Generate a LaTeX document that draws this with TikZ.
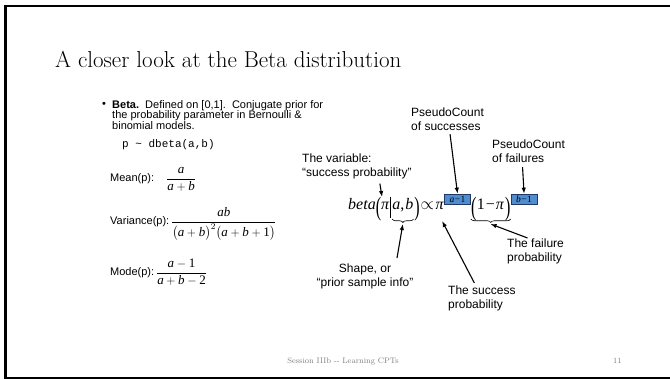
\documentclass[tikz,border=0pt]{standalone}
\usepackage{amsmath}
\usepackage{fontspec}
\newfontfamily\arial{Liberation Sans}
\newfontfamily\tms{Liberation Serif}
\newfontfamily\cour{Liberation Mono}
\usetikzlibrary{arrows.meta,decorations.pathreplacing}
\newcommand{\ti}[1]{\mbox{\tms\itshape #1}}
\newcommand{\tn}[1]{\mbox{\tms #1}}
\newcommand{\mfrac}[2]{{\fontsize{13}{15}\selectfont$\displaystyle\frac{#1}{#2}$}}
\newcommand{\bp}[1]{\raisebox{-5.5pt}{\scalebox{1}[1.65]{\tms #1}}}
\definecolor{boxblue}{RGB}{79,141,208}
\definecolor{boxedge}{RGB}{31,56,100}
\definecolor{footgray}{RGB}{128,128,128}
\tikzset{
  body/.style={font=\arial\fontsize{11}{10.5}\selectfont, inner sep=0pt},
  lab/.style={font=\arial\fontsize{12}{14}\selectfont, inner sep=0pt, align=left, anchor=north west},
  fm/.style={font=\tms\fontsize{16}{19}\selectfont, inner sep=0pt, anchor=base west},
  pcbox/.style={fill=boxblue, draw=boxedge, line width=0.8pt, minimum width=26pt, minimum height=10.5pt, inner sep=0pt, anchor=south west, font=\tms\fontsize{9.5}{9.5}\selectfont},
  brc/.style={decorate, decoration={brace, mirror, amplitude=3.5pt}, line width=0.6pt},
  arr/.style={-{Latex[length=6pt,width=4.5pt]}, line width=1.1pt},
  foot/.style={font=\fontsize{8}{10}\selectfont, text=footgray, inner sep=0pt}
}
\begin{document}
\begin{tikzpicture}[x=1pt,y=-1pt]
\useasboundingbox (0,0) rectangle (670,379);
\fill[white] (0,0) rectangle (670,379);
\draw[line width=2.2pt] (5.5,6) rectangle (690,378);

\node[font=\fontsize{23}{27}\selectfont, anchor=base west, inner sep=0pt] (title) at (55,67.5) {A closer look at the Beta distribution};

\node[body, anchor=base west] (bul) at (102,108) {•};
\node[body, anchor=north west, align=left] (btext) at (112,100) {\textbf{Beta.}\ \ Defined on [0,1].\ \ Conjugate prior for\\the probability parameter in Bernoulli \&\\binomial models.};

\node[font=\cour\fontsize{11}{13}\selectfont, inner sep=0pt, anchor=base west] (dbeta) at (122,148) {p \textasciitilde{} dbeta(a,b)};

\node[body, anchor=base west] (mean) at (110,182) {Mean(p):\hspace{12pt}\mfrac{\ti{a}}{\ti{a}+\ti{b}}};
\node[body, anchor=base west] (var) at (110,225) {Variance(p):\,\mfrac{\ti{ab}}{\bigl(\ti{a}+\ti{b}\bigr)^{2}\bigl(\ti{a}+\ti{b}+\tn{1}\bigr)}};
\node[body, anchor=base west] (mode) at (110,276) {Mode(p):\,\mfrac{\ti{a}-\tn{1}}{\ti{a}+\ti{b}-\tn{2}}};

% main formula
\node[fm] (n1) at (348,210) {\textit{beta}\bp{(}\textit{π}\kern0.5pt\rule[-8pt]{0.5pt}{21pt}\kern1.5pt};
\node[fm] (n2) at (n1.base east) {\textit{a},\kern1pt\textit{b}};
\node[fm] (n3) at (n2.base east) {\kern0.5pt\bp{)}\kern1pt$\propto$\kern1.5pt\textit{π}};
\node[pcbox] (b1) at ([yshift=5pt]n3.base east) {\textit{a}\kern0.5pt−\kern0.5pt1};
\node[fm] (n4) at (b1.south east |- n3.base) {\bp{(}};
\node[fm] (n5) at (n4.base east) {1\kern1pt−\kern1pt\textit{π}};
\node[fm] (n6) at (n5.base east) {\kern0.5pt\bp{)}};
\node[pcbox] (b2) at ([yshift=5pt]n6.base east) {\textit{b}\kern0.5pt−\kern0.5pt1};

\draw[brc] ([yshift=-9pt]n2.base west) -- ([yshift=-9pt]n2.base east);
\draw[brc] ([yshift=-9pt]n4.base west) -- ([yshift=-9pt]n6.base east);
\coordinate (br1) at ([yshift=-14pt]n2.base);
\coordinate (br2) at ([yshift=-14pt]n5.base);
\coordinate (vt) at ([xshift=34pt,yshift=13pt]n1.base west);
\coordinate (sp) at ([xshift=-2pt,yshift=-11pt]n3.base east);

% labels
\node[lab] (ls) at (411,108) {PseudoCount\\of successes};
\node[lab] (lf) at (492,140) {PseudoCount\\of failures};
\node[lab] (lv) at (302,154) {The variable:\\“success probability”};
\node[lab, align=center, anchor=north] (lsh) at (365,264) {Shape, or\\“prior sample info”};
\node[lab] (lsp) at (448,286) {The success\\probability};
\node[lab] (lfp) at (507,239) {The failure\\probability};

\draw[arr] ([xshift=2.5pt,yshift=-3pt]ls.south) -- (b1.north);
\draw[arr] ([xshift=-6pt,yshift=-4pt]lf.south) -- (b2.north);
\draw[arr] ([xshift=23pt,yshift=-4pt]lv.south) -- (vt);
\draw[arr] ([xshift=32pt,yshift=6pt]lsh.north) -- (br1);
\draw[arr] ([xshift=-7.5pt,yshift=3pt]lsp.north) -- (sp);
\draw[arr] ([xshift=-8pt,yshift=1pt]lfp.north) -- (br2);

\node[foot, anchor=base] (ft) at (343,364) {Session IIIb -{}- Learning CPTs};
\node[foot, anchor=base west] (pg) at (613,364) {11};
\end{tikzpicture}
\end{document}
